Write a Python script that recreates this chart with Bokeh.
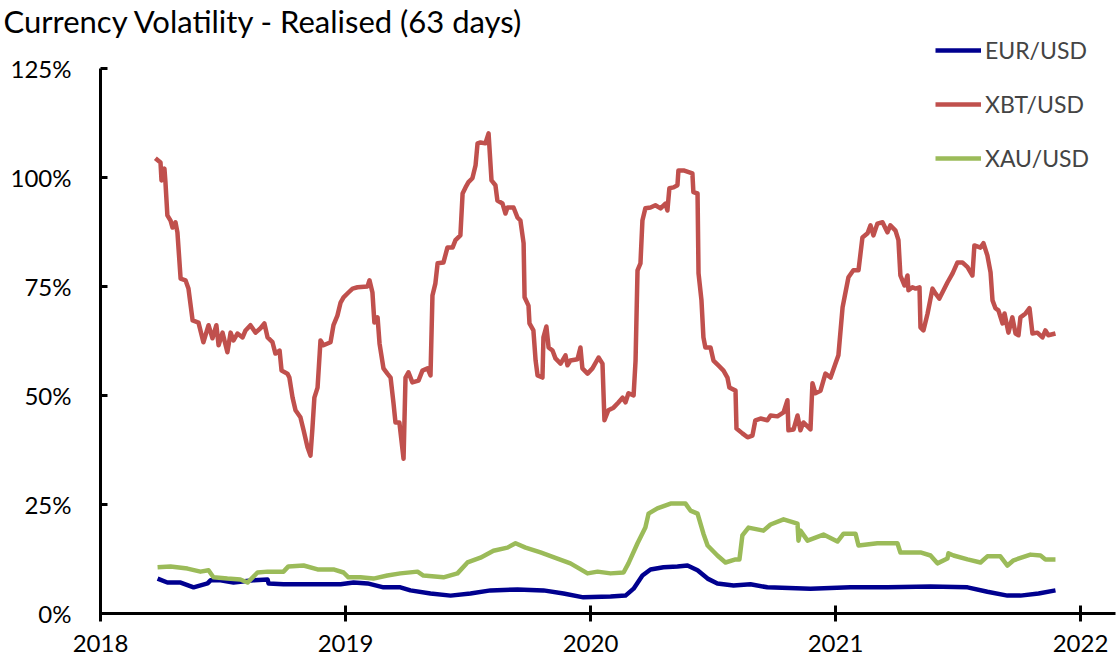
from bokeh.plotting import figure
from bokeh.models import FixedTicker, PrintfTickFormatter, Legend, LegendItem, Range1d
from bokeh.embed import file_html
from bokeh.resources import INLINE

TITLE = "Currency Volatility - Realised (63 days)"
year_ticks = [2018, 2019, 2020, 2021, 2022]
pct_ticks = [0, 25, 50, 75, 100, 125]
series_names = ["EUR/USD", "XBT/USD", "XAU/USD"]

# XBT/USD realised volatility (%), x in decimal years
xbt_x = [2018.224, 2018.245, 2018.249, 2018.261, 2018.265, 2018.273, 2018.286, 2018.294, 2018.306, 2018.314,
         2018.327, 2018.347, 2018.359, 2018.376, 2018.400, 2018.420, 2018.441, 2018.457, 2018.473, 2018.482,
         2018.498, 2018.518, 2018.531, 2018.543, 2018.559, 2018.580, 2018.592, 2018.612, 2018.633, 2018.653,
         2018.669, 2018.682, 2018.702, 2018.714, 2018.731, 2018.739, 2018.763, 2018.771, 2018.784, 2018.796,
         2018.816, 2018.829, 2018.845, 2018.857, 2018.865, 2018.873, 2018.886, 2018.898, 2018.910, 2018.939,
         2018.951, 2018.967, 2018.980, 2018.992, 2019.012, 2019.029, 2019.049, 2019.090, 2019.098, 2019.110,
         2019.118, 2019.131, 2019.139, 2019.155, 2019.171, 2019.184, 2019.196, 2019.204, 2019.220, 2019.237,
         2019.245, 2019.257, 2019.273, 2019.298, 2019.314, 2019.335, 2019.347, 2019.355, 2019.367, 2019.376,
         2019.400, 2019.416, 2019.437, 2019.449, 2019.469, 2019.478, 2019.490, 2019.502, 2019.518, 2019.531,
         2019.539, 2019.551, 2019.571, 2019.584, 2019.596, 2019.612, 2019.620, 2019.641, 2019.653, 2019.661,
         2019.686, 2019.702, 2019.714, 2019.727, 2019.731, 2019.747, 2019.751, 2019.767, 2019.776, 2019.784,
         2019.804, 2019.808, 2019.820, 2019.829, 2019.845, 2019.857, 2019.878, 2019.898, 2019.906, 2019.918,
         2019.947, 2019.959, 2019.967, 2019.988, 2020.008, 2020.033, 2020.049, 2020.057, 2020.073, 2020.094,
         2020.114, 2020.131, 2020.143, 2020.155, 2020.176, 2020.184, 2020.192, 2020.204, 2020.212, 2020.224,
         2020.245, 2020.265, 2020.286, 2020.306, 2020.314, 2020.322, 2020.339, 2020.355, 2020.359, 2020.380,
         2020.416, 2020.420, 2020.437, 2020.441, 2020.453, 2020.461, 2020.469, 2020.490, 2020.502, 2020.522,
         2020.543, 2020.559, 2020.567, 2020.592, 2020.596, 2020.620, 2020.641, 2020.661, 2020.673, 2020.694,
         2020.722, 2020.735, 2020.763, 2020.788, 2020.804, 2020.808, 2020.829, 2020.845, 2020.857, 2020.869,
         2020.898, 2020.906, 2020.918, 2020.939, 2020.959, 2020.980, 2021.000, 2021.012, 2021.029, 2021.037,
         2021.053, 2021.073, 2021.094, 2021.110, 2021.131, 2021.143, 2021.155, 2021.171, 2021.192, 2021.212,
         2021.224, 2021.245, 2021.257, 2021.265, 2021.282, 2021.294, 2021.298, 2021.314, 2021.327, 2021.343,
         2021.347, 2021.359, 2021.376, 2021.396, 2021.408, 2021.424, 2021.441, 2021.457, 2021.478, 2021.498,
         2021.518, 2021.539, 2021.559, 2021.567, 2021.592, 2021.604, 2021.620, 2021.633, 2021.641, 2021.653,
         2021.665, 2021.682, 2021.690, 2021.706, 2021.722, 2021.735, 2021.747, 2021.755, 2021.776, 2021.792,
         2021.804, 2021.824, 2021.845, 2021.857, 2021.869, 2021.898]
xbt_v = [104.4, 103.4, 99.3, 102.0, 99.0, 91.3, 90.1, 88.5, 89.7, 87.4,
         76.8, 76.4, 74.5, 67.2, 66.7, 62.2, 66.1, 63.1, 66.1, 61.5,
         64.4, 59.9, 64.4, 62.6, 64.2, 63.3, 64.9, 66.1, 64.4, 65.4,
         66.5, 63.3, 62.2, 59.6, 60.3, 55.7, 55.0, 54.1, 49.5, 46.6,
         45.0, 42.0, 38.1, 36.2, 42.4, 49.5, 51.8, 62.6, 61.5, 62.2,
         66.1, 68.3, 71.3, 72.5, 73.6, 74.5, 74.8, 75.0, 76.4, 73.6,
         66.7, 67.9, 61.9, 56.2, 55.0, 54.1, 48.2, 43.8, 43.8, 35.5,
         54.1, 55.3, 53.0, 53.4, 55.7, 56.2, 54.6, 72.9, 75.7, 80.3,
         80.5, 83.9, 83.9, 85.6, 86.7, 96.3, 97.7, 98.9, 99.8, 102.8,
         107.8, 108.0, 107.8, 110.1, 99.3, 98.2, 94.7, 94.0, 91.7, 93.1,
         93.1, 90.8, 90.1, 84.9, 72.5, 70.6, 66.5, 64.9, 58.0, 54.6,
         54.1, 63.3, 65.8, 61.0, 60.3, 58.5, 57.3, 59.2, 56.9, 58.0,
         58.3, 61.0, 56.2, 55.0, 56.2, 58.7, 57.3, 44.3, 46.6, 47.2,
         48.4, 49.5, 48.4, 50.5, 50.0, 58.0, 78.7, 80.3, 90.1, 92.9,
         93.1, 93.6, 92.9, 94.0, 92.4, 97.5, 97.7, 98.2, 101.6, 101.6,
         100.9, 96.6, 96.3, 78.0, 71.8, 63.3, 61.0, 61.0, 58.0, 56.9,
         55.7, 54.1, 51.8, 51.1, 42.4, 41.3, 40.4, 40.8, 44.3, 44.7,
         44.3, 45.4, 45.2, 46.1, 48.9, 42.0, 42.2, 45.4, 42.0, 43.8,
         42.2, 52.8, 50.5, 51.1, 55.0, 54.1, 57.3, 59.2, 70.2, 72.5,
         77.1, 78.7, 78.7, 86.2, 87.2, 89.0, 86.7, 89.4, 89.7, 87.4,
         89.0, 87.8, 85.6, 77.5, 75.2, 77.5, 74.1, 74.8, 74.5, 74.8,
         65.6, 64.9, 68.8, 74.5, 73.4, 72.2, 74.1, 75.9, 78.0, 80.5,
         80.5, 79.4, 77.5, 84.4, 83.9, 84.9, 82.1, 78.2, 71.8, 70.0,
         69.5, 66.5, 68.8, 64.4, 67.9, 64.2, 63.8, 67.9, 68.8, 70.0,
         64.2, 64.4, 63.3, 64.9, 63.8, 64.2]

# XAU/USD realised volatility (%)
xau_x = [2018.233, 2018.286, 2018.355, 2018.408, 2018.441, 2018.461, 2018.518, 2018.571, 2018.600, 2018.641,
         2018.682, 2018.747, 2018.767, 2018.829, 2018.886, 2018.951, 2018.992, 2019.012, 2019.061, 2019.114,
         2019.171, 2019.224, 2019.294, 2019.318, 2019.400, 2019.457, 2019.498, 2019.551, 2019.604, 2019.661,
         2019.694, 2019.735, 2019.796, 2019.865, 2019.918, 2019.988, 2020.029, 2020.082, 2020.135, 2020.155,
         2020.192, 2020.224, 2020.237, 2020.273, 2020.327, 2020.388, 2020.408, 2020.437, 2020.461, 2020.478,
         2020.518, 2020.551, 2020.592, 2020.608, 2020.620, 2020.645, 2020.706, 2020.735, 2020.788, 2020.845,
         2020.849, 2020.857, 2020.886, 2020.951, 2021.008, 2021.033, 2021.082, 2021.094, 2021.171, 2021.253,
         2021.265, 2021.347, 2021.388, 2021.416, 2021.457, 2021.461, 2021.482, 2021.539, 2021.592, 2021.620,
         2021.673, 2021.702, 2021.727, 2021.796, 2021.837, 2021.857, 2021.898]
xau_v = [10.6, 10.8, 10.3, 9.6, 9.9, 8.3, 8.0, 7.8, 7.1, 9.4,
         9.6, 9.6, 10.8, 11.0, 10.1, 10.1, 9.4, 8.3, 8.3, 8.0,
         8.7, 9.2, 9.6, 8.7, 8.3, 9.2, 11.7, 12.8, 14.4, 15.1,
         16.1, 15.1, 14.0, 12.6, 11.5, 9.2, 9.6, 9.2, 9.4, 11.5,
         16.1, 19.7, 22.9, 24.1, 25.2, 25.2, 23.6, 22.9, 18.3, 15.6,
         13.3, 11.7, 12.4, 12.4, 17.9, 19.7, 19.0, 20.4, 21.6, 20.6,
         16.7, 19.0, 16.7, 18.1, 16.5, 18.3, 18.3, 15.6, 16.1, 16.1,
         14.0, 14.0, 13.3, 11.5, 12.6, 13.8, 13.3, 12.4, 11.7, 13.1,
         13.1, 11.0, 12.2, 13.5, 13.3, 12.4, 12.4]

# EUR/USD realised volatility (%)
eur_x = [2018.233, 2018.273, 2018.327, 2018.380, 2018.437, 2018.449, 2018.490, 2018.543, 2018.624, 2018.682,
         2018.686, 2018.747, 2018.886, 2018.980, 2019.033, 2019.090, 2019.155, 2019.224, 2019.265, 2019.347,
         2019.429, 2019.510, 2019.592, 2019.702, 2019.808, 2019.890, 2019.971, 2020.082, 2020.143, 2020.176,
         2020.212, 2020.245, 2020.298, 2020.355, 2020.396, 2020.437, 2020.478, 2020.518, 2020.584, 2020.653,
         2020.722, 2020.898, 2021.061, 2021.212, 2021.388, 2021.539, 2021.620, 2021.702, 2021.755, 2021.829,
         2021.898]
eur_v = [8.0, 7.1, 7.1, 6.0, 6.9, 7.6, 7.6, 7.1, 7.6, 7.8,
         6.9, 6.7, 6.7, 6.7, 7.1, 6.9, 6.0, 6.0, 5.3, 4.6,
         4.1, 4.6, 5.3, 5.5, 5.3, 4.6, 3.7, 3.9, 4.1, 5.7,
         8.7, 10.1, 10.6, 10.8, 11.0, 9.9, 8.0, 6.9, 6.4, 6.7,
         6.0, 5.7, 6.0, 6.0, 6.2, 6.0, 5.0, 4.1, 4.1, 4.6,
         5.3]

colors = ["#00008F", "#C0504D", "#9BBB59"]
FONT = "Lato"

p = figure(width=1117, height=663, output_backend="svg", toolbar_location=None,
           x_range=Range1d(2018, 2022.143), y_range=Range1d(0, 132.3),
           min_border_left=100, min_border_right=2, min_border_top=36, min_border_bottom=50,
           title=TITLE)
p.outline_line_color = None
p.xgrid.visible = False
p.ygrid.visible = False
p.background_fill_color = "white"
p.border_fill_color = "white"

p.title.align = "left"
p.title.offset = -97
p.title.standoff = -7
p.title.text_font = FONT
p.title.text_font_size = "31px"
p.title.text_font_style = "normal"
p.title.text_color = "black"

r_eur = p.line(eur_x, eur_v, line_color=colors[0], line_width=4.5, line_join="round")
r_xbt = p.line(xbt_x, xbt_v, line_color=colors[1], line_width=4.5, line_join="round")
r_xau = p.line(xau_x, xau_v, line_color=colors[2], line_width=4.5, line_join="round")

for ax in (p.xaxis[0], p.yaxis[0]):
    ax.axis_line_width = 3
    ax.axis_line_color = "black"
    ax.major_tick_line_width = 3
    ax.major_tick_line_color = "black"
    ax.minor_tick_line_color = None
    ax.major_label_text_font = FONT
    ax.major_label_text_font_size = "24px"
    ax.major_label_text_color = "black"

p.xaxis[0].ticker = FixedTicker(ticks=year_ticks)
p.xaxis[0].formatter = PrintfTickFormatter(format="%d")
p.xaxis[0].major_tick_in = 8
p.xaxis[0].major_tick_out = 8
p.xaxis[0].major_label_standoff = 13

p.yaxis[0].ticker = FixedTicker(ticks=pct_ticks)
p.yaxis[0].formatter = PrintfTickFormatter(format="%d%%")
p.yaxis[0].bounds = (pct_ticks[0], pct_ticks[-1])
p.yaxis[0].major_tick_in = 7
p.yaxis[0].major_tick_out = 0
p.yaxis[0].major_label_standoff = 29

legend = Legend(items=[LegendItem(label=series_names[0], renderers=[r_eur]),
                       LegendItem(label=series_names[1], renderers=[r_xbt]),
                       LegendItem(label=series_names[2], renderers=[r_xau])],
                location=(835, 441), padding=0, margin=0, spacing=26,
                glyph_width=46, glyph_height=24, label_height=24, label_standoff=4,
                label_text_font=FONT, label_text_font_size="23px",
                border_line_alpha=0, background_fill_alpha=0)
p.add_layout(legend)

open("out.html", "w").write(file_html(p, INLINE))
